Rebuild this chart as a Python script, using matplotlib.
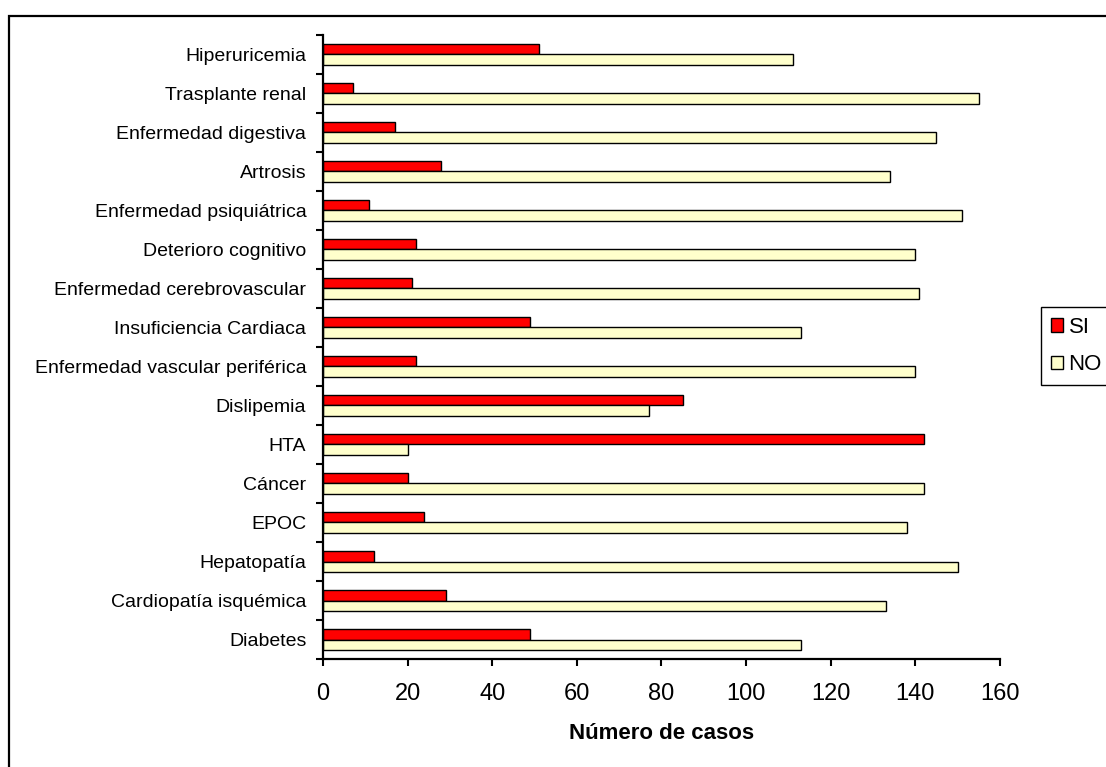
import matplotlib.pyplot as plt
from matplotlib.patches import Rectangle

# Datos del gráfico (de arriba hacia abajo)
categorias = ['Hiperuricemia', 'Trasplante renal', 'Enfermedad digestiva', 'Artrosis',
              'Enfermedad psiquiátrica', 'Deterioro cognitivo', 'Enfermedad cerebrovascular',
              'Insuficiencia Cardiaca', 'Enfermedad vascular periférica', 'Dislipemia', 'HTA',
              'Cáncer', 'EPOC', 'Hepatopatía', 'Cardiopatía isquémica', 'Diabetes']
si = [51, 7, 17, 28, 11, 22, 21, 49, 22, 85, 142, 20, 24, 12, 29, 49]
no = [111, 155, 145, 134, 151, 140, 141, 113, 140, 77, 20, 142, 138, 150, 133, 113]
xticks = [0, 20, 40, 60, 80, 100, 120, 140, 160]

plt.rcParams['font.family'] = ['Liberation Sans', 'DejaVu Sans']

fig = plt.figure(figsize=(11.06, 7.67), dpi=100)
ax = fig.add_axes([0.292, 0.1408, 0.612, 0.8136])

# marco exterior del gráfico
fig.patches.append(Rectangle((0.008, -0.2), 1.2, 0.979 + 0.2, transform=fig.transFigure,
                             fill=False, edgecolor='black', linewidth=1.6, clip_on=False))

pos = list(range(len(categorias)))
alto = 0.28
ax.barh([p - alto / 2 for p in pos], si, height=alto, color='#FF0000',
        edgecolor='black', linewidth=1.0, label='SI')
ax.barh([p + alto / 2 for p in pos], no, height=alto, color='#FFFFCC',
        edgecolor='black', linewidth=1.0, label='NO')

ax.set_ylim(len(categorias) - 0.5, -0.5)
ax.set_xlim(0, 160)

ax.set_yticks(pos)
ax.set_yticklabels(categorias, fontsize=14)
ax.tick_params(axis='y', which='major', length=0, pad=12)
ax.set_yticks([p - 0.5 for p in range(len(categorias) + 1)], minor=True)
ax.tick_params(axis='y', which='minor', length=5, width=1.5, direction='out')

ax.set_xticks(xticks)
ax.tick_params(axis='x', labelsize=17, length=5, width=1.5, direction='out', pad=12)
ax.set_xlabel('Número de casos', fontsize=16, fontweight='bold', labelpad=13)

for lado in ['top', 'right']:
    ax.spines[lado].set_visible(False)
for lado in ['left', 'bottom']:
    ax.spines[lado].set_linewidth(1.6)

leg = fig.legend(loc='upper left', bbox_to_anchor=(0.941, 0.600), fontsize=16,
                 frameon=True, fancybox=False, edgecolor='black', framealpha=1,
                 handlelength=0.55, handleheight=0.55, handletextpad=0.25,
                 borderpad=0.45, labelspacing=0.75, borderaxespad=0)
leg.get_frame().set_linewidth(1.0)

fig.savefig('out.png', dpi=100)
